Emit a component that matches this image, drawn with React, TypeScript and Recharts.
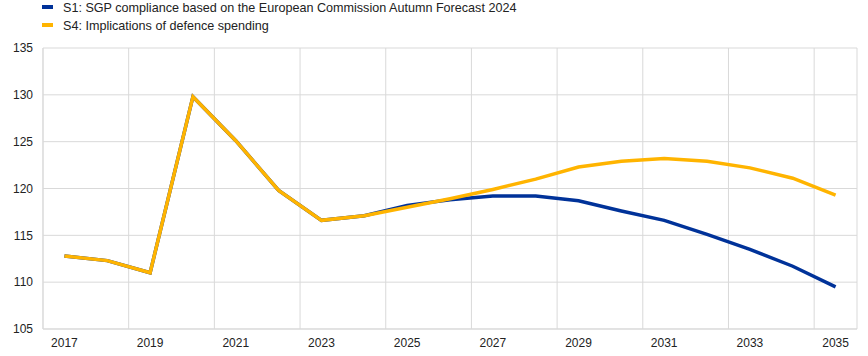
import React from "react";
import { CartesianGrid, Line, LineChart, XAxis, YAxis } from "recharts";

const years = [
  2017, 2018, 2019, 2020, 2021, 2022, 2023, 2024, 2025, 2026, 2027, 2028,
  2029, 2030, 2031, 2032, 2033, 2034, 2035,
];
const s1 = [
  112.8, 112.3, 111.0, 129.8, 125.1, 119.8, 116.6, 117.1, 118.2, 118.8, 119.2,
  119.2, 118.7, 117.6, 116.6, 115.1, 113.5, 111.7, 109.5,
];
const s4 = [
  112.8, 112.3, 111.0, 129.8, 125.1, 119.8, 116.6, 117.1, 118.0, 118.9, 119.9,
  121.0, 122.3, 122.9, 123.2, 122.9, 122.2, 121.1, 119.3,
];
const yTicks = [105, 110, 115, 120, 125, 130, 135];
const xTicks = [2017, 2019, 2021, 2023, 2025, 2027, 2029, 2031, 2033, 2035];
// grid lines sit between the yearly bands, every second year
const gridTicks = [2016.5, 2018.5, 2020.5, 2022.5, 2024.5, 2026.5, 2028.5, 2030.5, 2032.5, 2034.5];

const series = [
  { key: "s1", name: "S1: SGP compliance based on the European Commission Autumn Forecast 2024", color: "#003299" },
  { key: "s4", name: "S4: Implications of defence spending", color: "#FFB400" },
];

const data = years.map((year, i) => ({ year, s1: s1[i], s4: s4[i] }));

const font = "Arial, 'Liberation Sans', sans-serif";
const tick = { fontSize: 12, fill: "#222", fontFamily: font };

export default function App() {
  return (
    <div style={{ position: "absolute", left: 0, top: 0, width: 868, height: 356, background: "#fff" }}>
      <div style={{ position: "absolute", left: 42, top: -1, fontFamily: font, fontSize: 12.6, color: "#222", zIndex: 1 }}>
        {series.map((s) => (
          <div key={s.key} style={{ display: "flex", alignItems: "center", height: 18, lineHeight: "18px" }}>
            <span style={{ display: "inline-block", width: 11, height: 4, background: s.color, marginRight: 10, marginTop: -3 }} />
            <span>{s.name}</span>
          </div>
        ))}
      </div>
      <LineChart
        width={868}
        height={356}
        data={data}
        margin={{ top: 48, right: 11, bottom: 0, left: 0 }}
      >
        <XAxis
          xAxisId="grid"
          dataKey="year"
          type="number"
          domain={[2016.5, 2035.5]}
          ticks={gridTicks}
          hide
        />
        <CartesianGrid xAxisId="grid" stroke="#d9d9d9" />
        <XAxis
          dataKey="year"
          type="number"
          domain={[2016.5, 2035.5]}
          ticks={xTicks}
          interval={0}
          tick={tick}
          tickLine={false}
          tickSize={0}
          tickMargin={9}
          height={27}
          axisLine={{ stroke: "#d9d9d9" }}
        />
        <YAxis
          domain={[105, 135]}
          ticks={yTicks}
          interval={0}
          tick={tick}
          tickLine={false}
          tickSize={0}
          tickMargin={10}
          width={43}
          axisLine={{ stroke: "#d9d9d9" }}
        />
        {series.map((s) => (
          <Line
            key={s.key}
            dataKey={s.key}
            name={s.name}
            type="linear"
            stroke={s.color}
            strokeWidth={3.5}
            dot={false}
            isAnimationActive={false}
          />
        ))}
      </LineChart>
    </div>
  );
}
